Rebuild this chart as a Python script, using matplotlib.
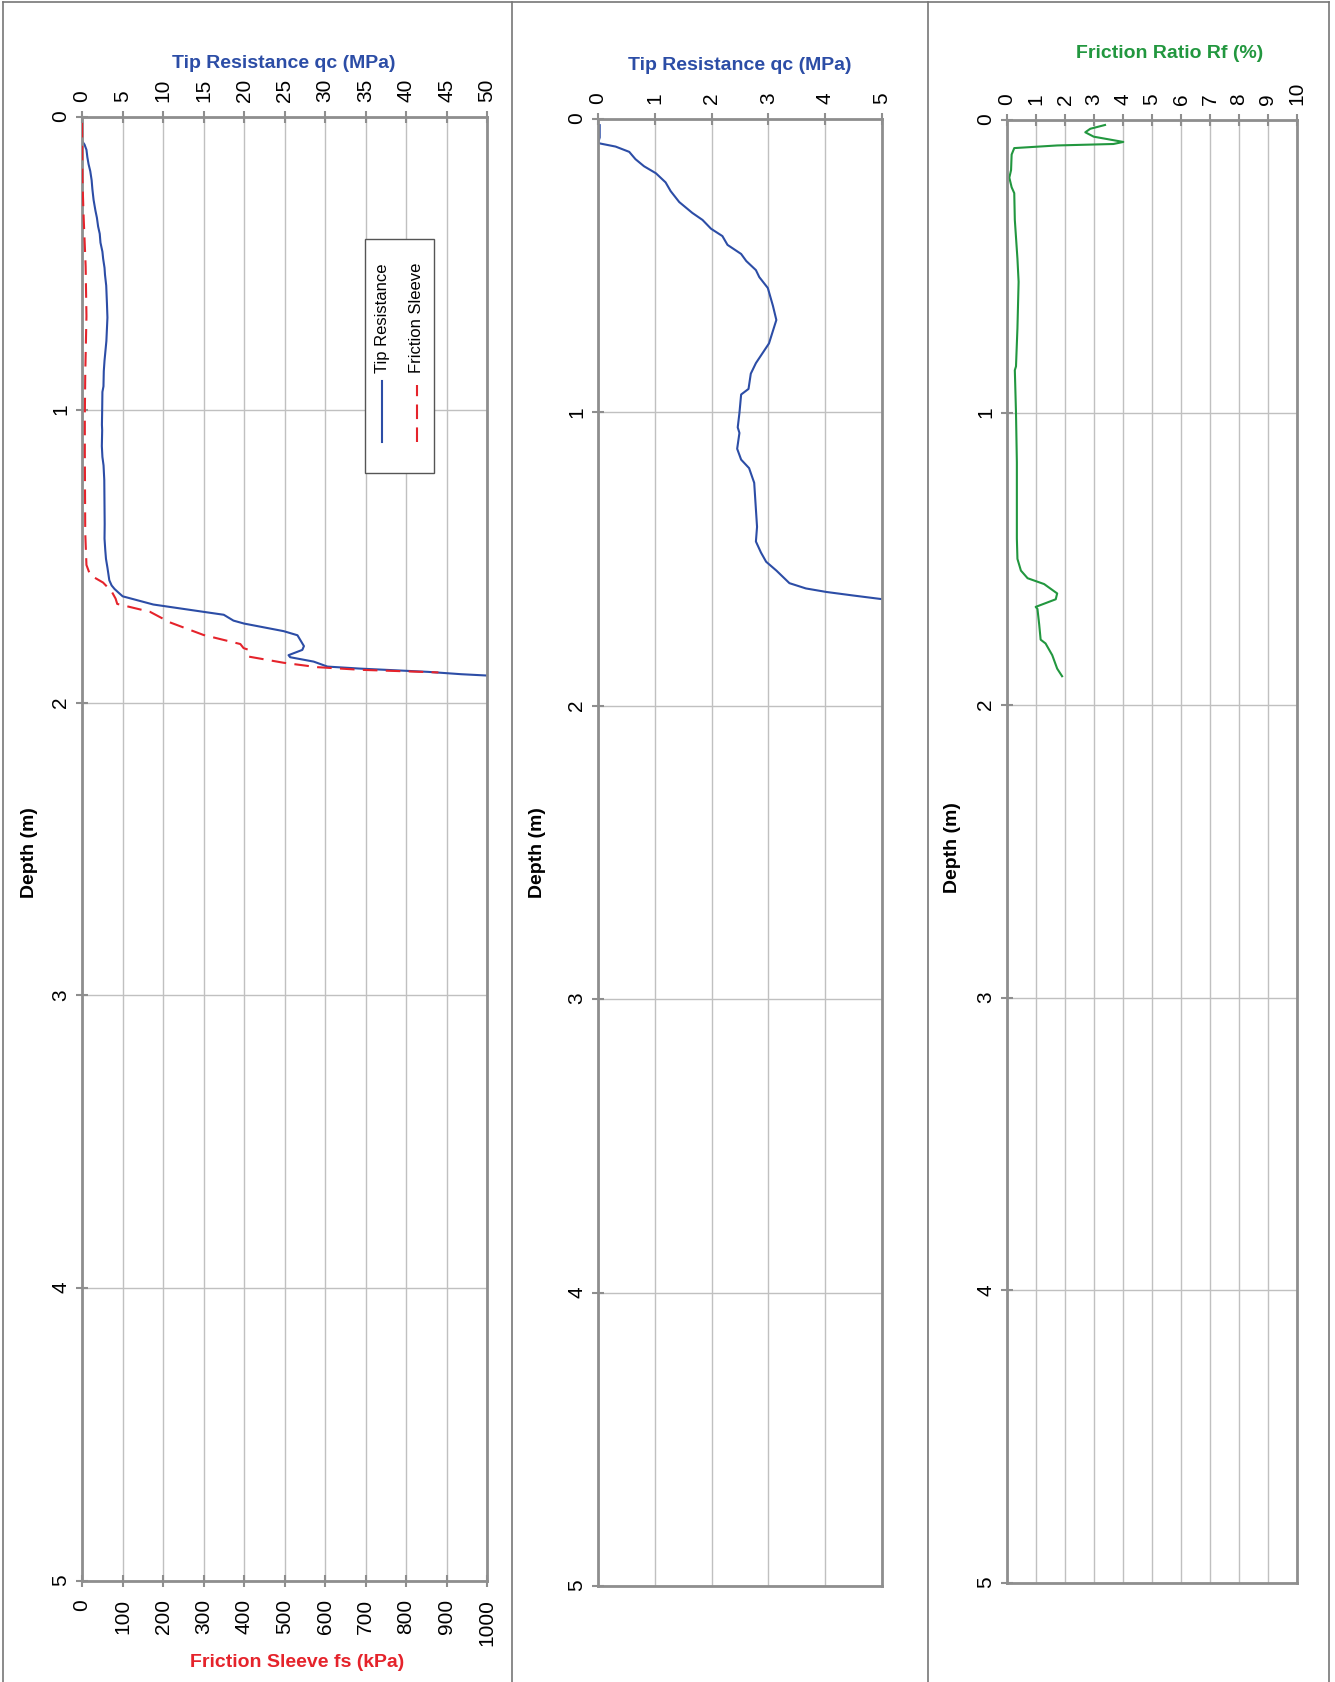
import numpy as np
import matplotlib
matplotlib.use("Agg")
import matplotlib.pyplot as plt
from matplotlib.lines import Line2D
from matplotlib.patches import Rectangle

plt.rcParams['font.family'] = ['Liberation Sans', 'DejaVu Sans']

# tip resistance qc (MPa) vs depth (m)
tip_depth = [0.021, 0.063, 0.082, 0.084, 0.094, 0.112, 0.137, 0.161, 0.185, 0.216,
             0.246, 0.283, 0.320, 0.344, 0.374, 0.399, 0.429, 0.460, 0.484, 0.515,
             0.539, 0.576, 0.637, 0.685, 0.765, 0.832, 0.868, 0.920, 0.939, 1.002,
             1.051, 1.070, 1.124, 1.161, 1.190, 1.240, 1.330, 1.390, 1.440, 1.478,
             1.509, 1.539, 1.582, 1.600, 1.612, 1.624, 1.637, 1.665, 1.690, 1.700,
             1.720, 1.730, 1.756, 1.770, 1.807, 1.820, 1.838, 1.845, 1.860, 1.877,
             1.884, 1.895, 1.903, 1.908]
tip_qc = [0.03, 0.03, 0.00, 0.05, 0.31, 0.55, 0.66, 0.81, 1.02, 1.19,
          1.28, 1.43, 1.66, 1.84, 1.99, 2.19, 2.28, 2.52, 2.61, 2.78,
          2.84, 2.99, 3.08, 3.14, 3.01, 2.78, 2.69, 2.65, 2.52, 2.49,
          2.46, 2.49, 2.45, 2.52, 2.66, 2.75, 2.78, 2.80, 2.78, 2.87,
          2.96, 3.14, 3.37, 3.66, 4.02, 4.49, 5.02, 8.8, 15.0, 17.5,
          18.7, 20.0, 24.9, 26.6, 27.4, 27.2, 25.5, 25.7, 28.6, 30.3,
          34.4, 42.7, 46.8, 50.3]

# friction sleeve fs (kPa) vs depth (m)
fs_depth = [0.02, 0.21, 0.34, 0.51, 0.68, 0.88, 1.02, 1.15, 1.42, 1.53,
            1.56, 1.57, 1.59, 1.62, 1.645, 1.663, 1.69, 1.726, 1.769, 1.80,
            1.814, 1.82, 1.843, 1.864, 1.879, 1.888, 1.897]
fs_kpa = [0, 1, 4, 9, 11, 8, 7, 7, 8, 11,
          19, 27, 52, 73, 83, 87, 168, 217, 300, 391,
          399, 412, 412, 498, 581, 688, 880]

# friction ratio Rf (%) vs depth (m)
rf_depth = [0.017, 0.030, 0.042, 0.057, 0.075, 0.082, 0.087, 0.096, 0.118, 0.171,
            0.197, 0.230, 0.250, 0.342, 0.474, 0.553, 0.711, 0.842, 0.855, 1.000,
            1.170, 1.430, 1.500, 1.540, 1.566, 1.586, 1.618, 1.638, 1.664, 1.671,
            1.724, 1.776, 1.789, 1.829, 1.875, 1.901]
rf_pct = [3.38, 2.87, 2.70, 2.99, 4.01, 3.67, 1.73, 0.25, 0.16, 0.14,
          0.08, 0.16, 0.25, 0.27, 0.36, 0.40, 0.36, 0.31, 0.27, 0.31,
          0.34, 0.34, 0.36, 0.48, 0.71, 1.28, 1.73, 1.68, 0.99, 1.05,
          1.11, 1.16, 1.33, 1.56, 1.73, 1.90]

BLUE = '#2C4DA6'
RED = '#E5232B'
GREEN = '#22973F'
GRID = '#C0C0C0'
SPINE = '#8E8E8E'
TICKFS = 15

W, H = 1335, 1683
fig = plt.figure(figsize=(W / 100, H / 100), dpi=100)


def rect(x0, y0, x1, y1):
    return [x0 / W, 1 - y1 / H, (x1 - x0) / W, (y1 - y0) / H]


def style(ax, xmax, xstep):
    ax.set_ylim(5, 0)
    ax.set_xlim(0, xmax)
    ax.set_xticks(np.arange(0, xmax + xstep / 2, xstep))
    ax.set_yticks(range(6))
    ax.grid(True, color=GRID, lw=1.0)
    ax.set_axisbelow(True)
    for s in ax.spines.values():
        s.set_color(SPINE)
        s.set_linewidth(2)
    ax.tick_params(axis='both', direction='inout', length=9, width=1.5,
                   color=SPINE, labelsize=TICKFS, labelrotation=90, pad=4)
    ax.tick_params(axis='x', pad=7)


# ---- panel 1 ----
ax1 = fig.add_axes(rect(82, 118, 487, 1582))
style(ax1, 50, 5)
ax1b = ax1.twiny()
ax1.xaxis.tick_top()
ax1.tick_params(axis='x', labelrotation=90, pad=7)
ax1b.set_xlim(0, 1000)
ax1b.set_xticks(range(0, 1001, 100))
ax1b.xaxis.tick_bottom()
ax1b.tick_params(axis='x', direction='inout', length=9, width=1.5, color=SPINE,
                 labelsize=TICKFS, labelrotation=90, pad=8)
for s in ax1b.spines.values():
    s.set_visible(False)
ax1.plot(tip_qc, tip_depth, color=BLUE, lw=1.5)
ax1b.plot(fs_kpa, fs_depth, color=RED, lw=1.5, dashes=(7, 4))
ax1b.set_ylim(5, 0)

# legend drawn by hand (rotated entries)
ax1.add_patch(Rectangle((0.699, 0.757), 0.170, 0.160, transform=ax1.transAxes,
                        fill=True, facecolor='white', edgecolor='#555555', lw=1, zorder=5))
ax1.add_line(Line2D([0.741, 0.741], [0.778, 0.820], transform=ax1.transAxes,
                    color=BLUE, lw=1.5, zorder=6))
ax1.add_line(Line2D([0.826, 0.826], [0.778, 0.817], transform=ax1.transAxes,
                    color=RED, lw=1.5, dashes=(7, 4), zorder=6))
ax1.text(0.741, 0.826, 'Tip Resistance', transform=ax1.transAxes, rotation=90,
         ha='center', va='bottom', fontsize=12, zorder=6)
ax1.text(0.826, 0.826, 'Friction Sleeve', transform=ax1.transAxes, rotation=90,
         ha='center', va='bottom', fontsize=12, zorder=6)

# ---- panel 2 ----
ax2 = fig.add_axes(rect(598, 120, 882, 1587))
style(ax2, 5, 1)
ax2.xaxis.tick_top()
ax2.plot(tip_qc, tip_depth, color=BLUE, lw=1.5)

# ---- panel 3 ----
ax3 = fig.add_axes(rect(1007, 121, 1297, 1584))
style(ax3, 10, 1)
ax3.xaxis.tick_top()
ax3.plot(rf_pct, rf_depth, color=GREEN, lw=1.5)

# ---- titles and labels ----
def ftext(x, y, s, **kw):
    fig.text(x / W, 1 - y / H, s, ha='center', va='center', **kw)

ftext(284, 63, 'Tip Resistance qc (MPa)', color=BLUE, fontsize=14, fontweight='bold')
ftext(740, 65, 'Tip Resistance qc (MPa)', color=BLUE, fontsize=14, fontweight='bold')
ftext(1170, 53, 'Friction Ratio Rf (%)', color=GREEN, fontsize=14, fontweight='bold')
ftext(297, 1663, 'Friction Sleeve fs (kPa)', color=RED, fontsize=14, fontweight='bold')
ftext(30, 853, 'Depth (m)', rotation=90, fontsize=14, fontweight='bold')
ftext(537, 853, 'Depth (m)', rotation=90, fontsize=14, fontweight='bold')
ftext(953, 848, 'Depth (m)', rotation=90, fontsize=14, fontweight='bold')

# ---- outer frame and dividers ----
BORDER = '#777777'
for xs, ys in [([3, 1329], [3, 3]), ([3, 3], [3, H]), ([1329, 1329], [3, H]),
               ([512, 512], [3, H]), ([928, 928], [3, H])]:
    fig.add_artist(Line2D([x / W for x in xs], [1 - y / H for y in ys],
                          color=BORDER, lw=1.2))

fig.savefig('out.png', dpi=100)
